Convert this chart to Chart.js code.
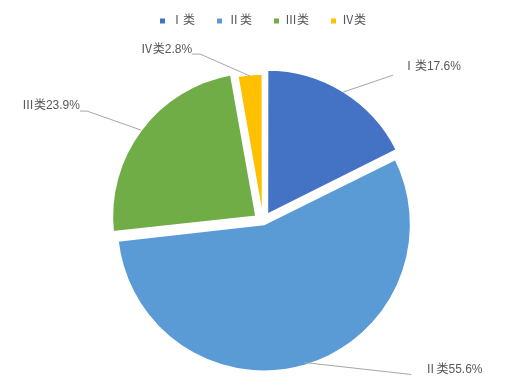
<!DOCTYPE html>
<html>
<head>
<meta charset="utf-8">
<script src="https://cdn.jsdelivr.net/npm/chart.js@4"></script>
<style>
html,body{margin:0;padding:0;background:#fff;}
#wrap{width:532px;height:392px;position:relative;}
</style>
</head>
<body>
<div id="wrap"><canvas id="c" width="532" height="392"></canvas></div>
<script>
// ---- data ----
const categories = ['Ⅰ类', 'Ⅱ类', 'Ⅲ类', 'Ⅳ类'];
const shares = [17.6, 55.6, 23.9, 2.8];

// ---- styles ----
const sliceColors = ['#4472C4', '#5B9BD5', '#70AD47', '#FFC000'];
const sliceOffsets = [32, 12, 34, 8];
const FONT = '"Liberation Sans", "Noto Sans CJK SC", sans-serif';
const TEXT_COLOR = '#595959';
const LINE_COLOR = '#A6A6A6';
// label placement relative to the slice's outer mid point: [elbow dx, elbow dy, tail dx, text gap, text dy]
const labelLayout = [
  [50, -17, 0, 10, -9],
  [107, 12, 0, 13, -5],
  [-54, -19, -7, 0, -5],
  [-50, -22, -8, 0, -4]
];

const leaderPlugin = {
  id: 'leaders',
  afterDatasetsDraw(chart) {
    const ctx = chart.ctx;
    const meta = chart.getDatasetMeta(0);
    meta.data.forEach((arc, i) => {
      const p = arc.getProps(['x', 'y', 'startAngle', 'endAngle', 'outerRadius'], true);
      const mid = (p.startAngle + p.endAngle) / 2;
      const t = (arc.options.offset || 0) / 4;
      const ax = p.x + Math.cos(mid) * (p.outerRadius + t);
      const ay = p.y + Math.sin(mid) * (p.outerRadius + t);
      const L = labelLayout[i];
      const ex = ax + L[0], ey = ay + L[1];
      const tx = ex + L[2];
      ctx.save();
      ctx.strokeStyle = LINE_COLOR;
      ctx.lineWidth = 1;
      ctx.beginPath();
      ctx.moveTo(ax, ay);
      ctx.lineTo(ex, ey);
      if (L[2] !== 0) ctx.lineTo(tx, ey);
      ctx.stroke();
      ctx.fillStyle = TEXT_COLOR;
      ctx.font = '12px ' + FONT;
      ctx.textBaseline = 'middle';
      const text = categories[i] + shares[i].toFixed(1) + '%';
      if (L[2] < 0 || L[0] < 0) {
        ctx.textAlign = 'right';
        ctx.fillText(text, tx - L[3], ey + L[4]);
      } else {
        ctx.textAlign = 'left';
        ctx.fillText(text, tx + L[3], ey + L[4]);
      }
      ctx.restore();
    });
  }
};

new Chart(document.getElementById('c'), {
  type: 'pie',
  data: {
    labels: categories,
    datasets: [{
      data: shares,
      backgroundColor: sliceColors,
      borderColor: '#ffffff',
      borderWidth: 2,
      offset: sliceOffsets
    }]
  },
  options: {
    responsive: false,
    animation: false,
    radius: 144,
    layout: { padding: { top: -7, left: 0, right: 6, bottom: 0 } },
    plugins: {
      legend: {
        position: 'top',
        labels: {
          boxWidth: 5,
          boxHeight: 5,
          padding: 22,
          color: TEXT_COLOR,
          font: { size: 12, family: FONT },
          generateLabels(chart) {
            const items = Chart.overrides.pie.plugins.legend.labels.generateLabels(chart);
            items.forEach(it => { it.lineWidth = 0; it.strokeStyle = it.fillStyle; });
            return items;
          }
        }
      },
      title: {
        display: true,
        text: '',
        weight: 500,
        font: { size: 2, lineHeight: 1 },
        padding: { top: 12, bottom: 0 }
      },
      tooltip: { enabled: false }
    }
  },
  plugins: [leaderPlugin]
});
</script>
</body>
</html>
